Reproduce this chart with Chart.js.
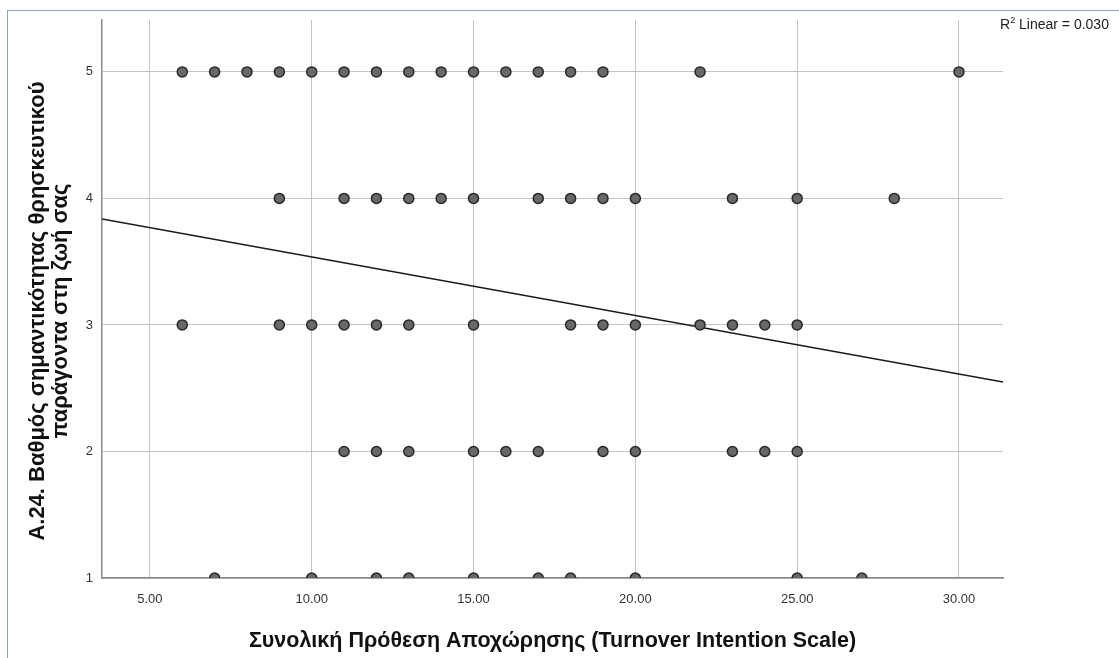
<!DOCTYPE html>
<html>
<head>
<meta charset="utf-8">
<script src="https://cdn.jsdelivr.net/npm/chart.js@4.4.1/dist/chart.umd.min.js"></script>
<style>
  html, body { margin: 0; padding: 0; background: #fff; overflow: hidden; }
  #wrap { position: relative; width: 1119px; height: 658px; }
  #frame { position: absolute; left: 7px; top: 10px; width: 1120px; height: 660px; border: 1px solid #8ea2bd; }
  #r2 { position: absolute; left: 1000px; top: 15px; font: 14px "Liberation Sans", Arial, sans-serif; color: #222; white-space: nowrap; }
  #r2 sup { font-size: 9px; }
</style>
</head>
<body>
<div id="wrap">
  <div id="frame"></div>
  <canvas id="myChart" width="1119" height="658"></canvas>
  <div id="r2">R<sup>2</sup> Linear = 0.030</div>
</div>
<script>
// valeurs (une ligne par niveau de la réponse A.24)
const level5 = [6, 7, 8, 9, 10, 11, 12, 13, 14, 15, 16, 17, 18, 19, 22, 30];
const level4 = [9, 11, 12, 13, 14, 15, 17, 18, 19, 20, 23, 25, 28];
const level3 = [6, 9, 10, 11, 12, 13, 15, 18, 19, 20, 22, 23, 24, 25];
const level2 = [11, 12, 13, 15, 16, 17, 19, 20, 23, 24, 25];
const level1 = [7, 10, 12, 13, 15, 17, 18, 20, 25, 27];

const xTicks = [5, 10, 15, 20, 25, 30];
const yTicks = [1, 2, 3, 4, 5];
const xMin = 3.52, xMax = 31.36;
const yMin = 1, yMax = 5.41;

// droite de régression (R² linéaire = 0.030)
const intercept = 4.0;
const slope = -0.0463;

const yTitle = ["A.24. Βαθμός σημαντικότητας θρησκευτικού", "παράγοντα στη ζωή σας"];

const points = [];
[[1, level1], [2, level2], [3, level3], [4, level4], [5, level5]].forEach(([lvl, xs]) => {
  xs.forEach(x => points.push({ x: x, y: lvl }));
});

const fitLine = [xMin, xMax].map(x => ({ x: x, y: intercept + slope * x }));

const font = "'Liberation Sans', Arial, sans-serif";

// titre vertical sur deux lignes (le titre de l'échelle se chevauche)
const yTitlePlugin = {
  id: "yTitle",
  afterDraw(chart) {
    const c = chart.ctx;
    c.save();
    c.translate(0, 311);
    c.rotate(-Math.PI / 2);
    c.fillStyle = "#111";
    c.font = "bold 22px " + font;
    c.textAlign = "center";
    c.textBaseline = "middle";
    c.fillText(yTitle[0], 0, 38);
    c.fillText(yTitle[1], 0, 61);
    c.restore();
  }
};

let ctx = document.getElementById("myChart").getContext("2d");
let myChart = new Chart(ctx, {
  type: "scatter",
  data: {
    datasets: [
      {
        label: "points",
        data: points,
        pointRadius: 5,
        pointHoverRadius: 5,
        pointBackgroundColor: "#686868",
        pointBorderColor: "#282828",
        pointBorderWidth: 1.5,
        order: 1
      },
      {
        label: "fit",
        type: "line",
        data: fitLine,
        borderColor: "#1a1a1a",
        borderWidth: 1.5,
        pointRadius: 0,
        fill: false,
        order: 2
      }
    ]
  },
  options: {
    responsive: false,
    animation: false,
    layout: { padding: { left: 0, top: 20, right: 116, bottom: 0 } },
    plugins: { legend: { display: false }, tooltip: { enabled: false } },
    scales: {
      x: {
        type: "linear",
        min: xMin,
        max: xMax,
        afterBuildTicks: s => { s.ticks = xTicks.map(v => ({ value: v })); },
        afterFit: s => { s.height = 80; },
        grid: { color: "#c4c4c4", lineWidth: 1, drawTicks: false },
        border: { color: "#8a8a8a", width: 1.5 },
        ticks: {
          padding: 14,
          color: "#333",
          font: { family: font, size: 13 },
          callback: v => v.toFixed(2)
        },
        title: {
          display: true,
          text: "Συνολική Πρόθεση Αποχώρησης (Turnover Intention Scale)",
          color: "#111",
          font: { family: font, size: 21.5, weight: "bold" },
          padding: { top: 6, bottom: 4 }
        }
      },
      y: {
        type: "linear",
        min: yMin,
        max: yMax,
        afterBuildTicks: s => { s.ticks = yTicks.map(v => ({ value: v })); },
        afterFit: s => { s.width = 102; },
        grid: { color: "#c4c4c4", lineWidth: 1, drawTicks: false },
        border: { color: "#8a8a8a", width: 1.5 },
        ticks: {
          padding: 9,
          color: "#333",
          font: { family: font, size: 13 }
        },
        title: { display: false }
      }
    }
  },
  plugins: [yTitlePlugin]
});
</script>
</body>
</html>
